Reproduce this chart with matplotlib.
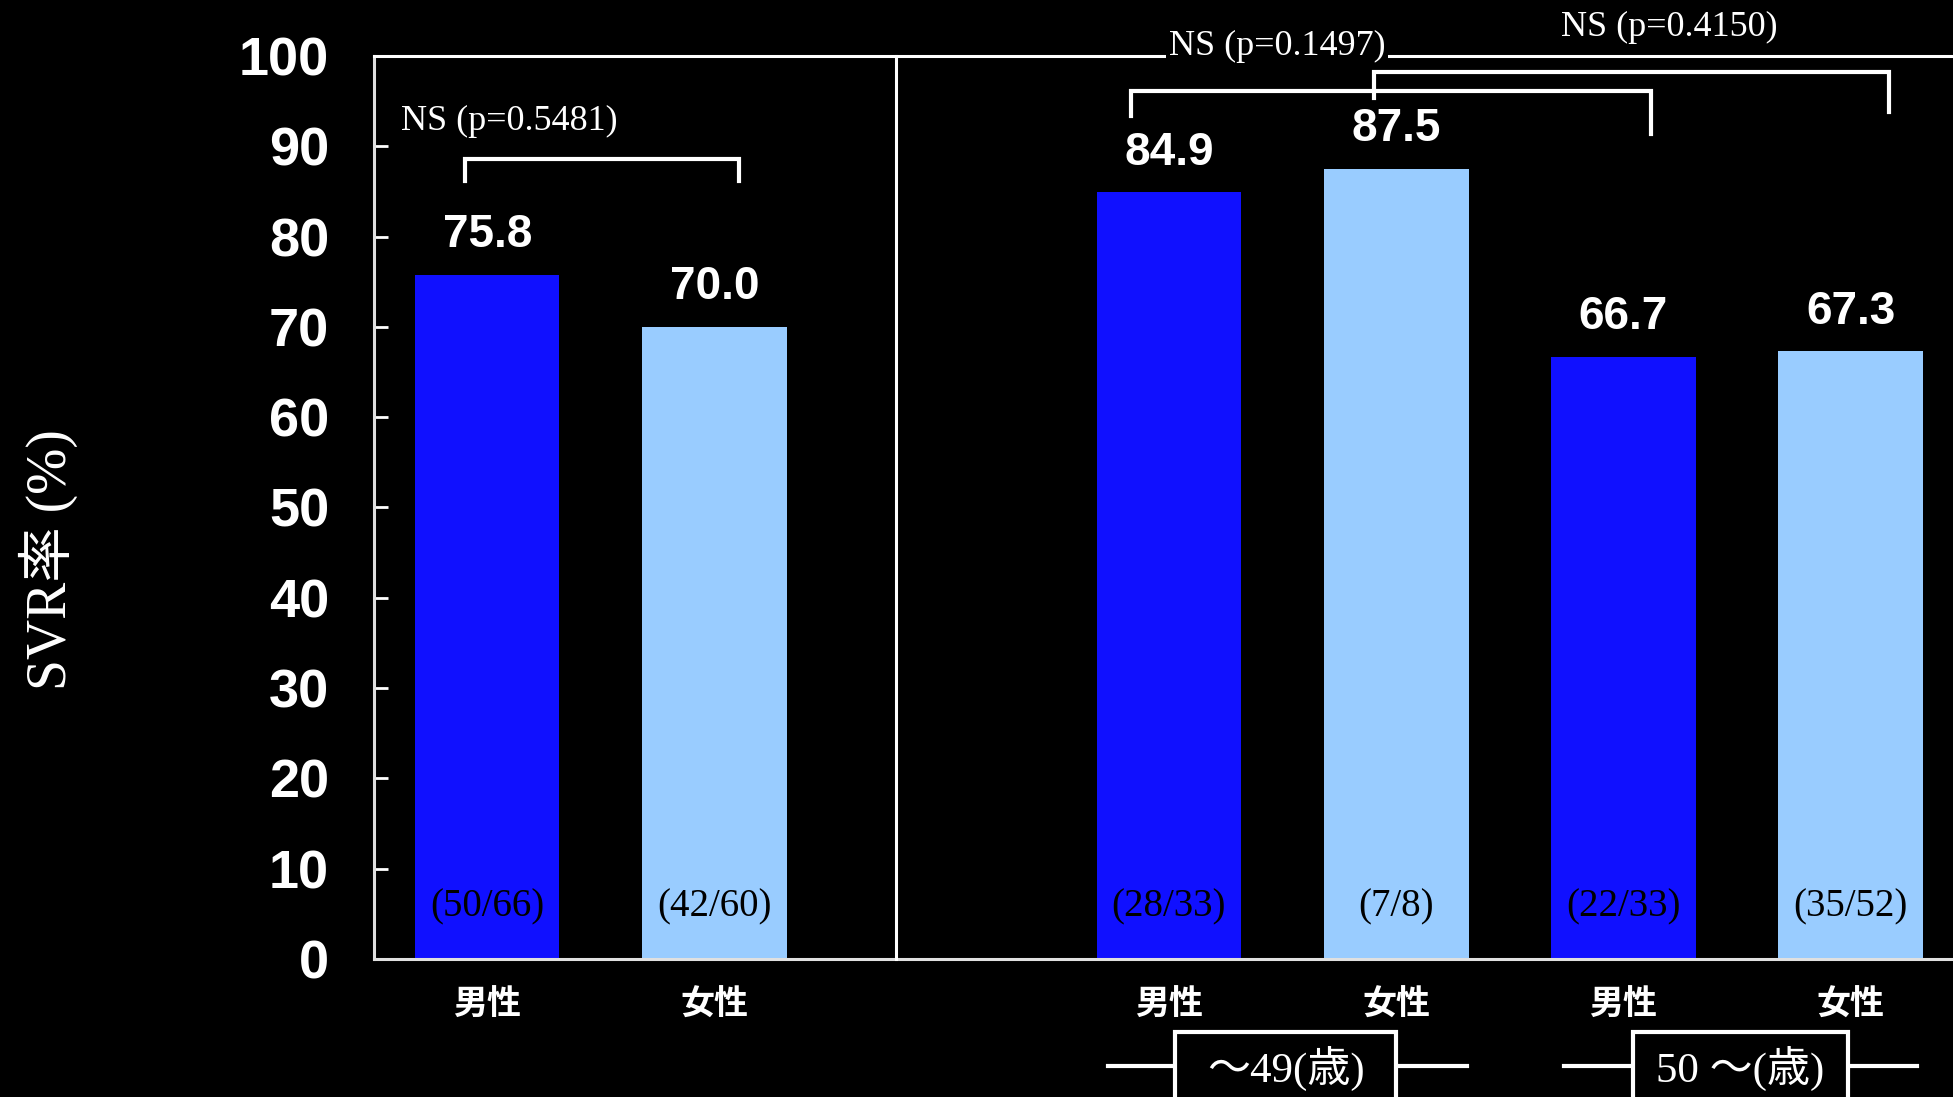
import matplotlib
matplotlib.use("Agg")
import matplotlib.pyplot as plt
from matplotlib.patches import Rectangle

# ---- data ----
categories = ['男性', '女性', '男性', '女性', '男性', '女性']
svr_rates = [75.8, 70.0, 84.9, 87.5, 66.7, 67.3]
count_labels = ['(50/66)', '(42/60)', '(28/33)', '(7/8)', '(22/33)', '(35/52)']
p_labels = ['NS (p=0.5481)', 'NS (p=0.1497)', 'NS (p=0.4150)']
age_groups = ['～49(歳)', '50 ～(歳)']
y_ticks = [0, 10, 20, 30, 40, 50, 60, 70, 80, 90, 100]
y_label = 'SVR率 (%)'

positions = [0, 1, 3, 4, 5, 6]
male_color = '#1010FF'
female_color = '#99CCFF'
colors = [male_color, female_color] * 3

SANS_B = ['Liberation Sans', 'DejaVu Sans']
SERIF = ['Liberation Serif', 'Noto Sans CJK JP', 'DejaVu Serif']
CJK_B = ['Noto Sans CJK JP', 'DejaVu Sans']

fig = plt.figure(figsize=(19.53, 10.97), dpi=100, facecolor='black')
ax = fig.add_axes([0.1913, 0.126, 0.8087, 0.8229])
ax.set_facecolor('black')

ax.bar(positions, svr_rates, width=0.636, color=colors, zorder=2)
ax.set_xlim(-0.5, 6.45)
ax.set_ylim(0, 100)

# spines
for s in ['left', 'bottom', 'top']:
    ax.spines[s].set_color('#e0e0e0')
    ax.spines[s].set_linewidth(2.2)
ax.spines['right'].set_visible(False)
ax.spines['top'].set_color('white')

ax.set_yticks(y_ticks)
ax.set_yticklabels([str(t) for t in y_ticks], family=SANS_B, fontweight='bold',
                   fontsize=39, color='white')
ax.tick_params(axis='y', direction='in', length=10, width=2, color='white', pad=32)
ax.set_xticks([])

# separator
ax.plot([1.8, 1.8], [0, 100], color='white', lw=2.2, clip_on=False, zorder=3)

# value labels
for x, v in zip(positions, svr_rates):
    ax.text(x, v + 4.4, f'{v:.1f}', ha='center', va='center', color='white',
            family=SANS_B, fontweight='bold', fontsize=33)

# count labels
for x, c in zip(positions, count_labels):
    ax.text(x, 5.7, c, ha='center', va='center', color='black',
            family=SERIF, fontsize=28)

# category labels
for x, c in zip(positions, categories):
    ax.text(x, -5.0, c, ha='center', va='center', color='white',
            family=CJK_B, fontweight='bold', fontsize=24.5, clip_on=False)

# brackets
def bracket(x1, x2, y, y1, y2):
    ax.plot([x1, x1, x2, x2], [y1, y, y, y2], color='white', lw=3,
            clip_on=False, zorder=4, solid_joinstyle='miter')

bracket(-0.099, 1.107, 88.55, 86.2, 86.2)
bracket(2.834, 5.12, 96.1, 93.4, 91.4)
bracket(3.90, 6.17, 98.2, 95.4, 93.8)

ax.text(-0.378, 92.7, p_labels[0], ha='left', va='center', color='white',
        family=SERIF, fontsize=26)
ax.text(3.476, 101.1, p_labels[1], ha='center', va='center', color='white',
        family=SERIF, fontsize=26, clip_on=False, zorder=5,
        bbox=dict(facecolor='black', edgecolor='none', pad=2))
ax.text(5.20, 103.2, p_labels[2], ha='center', va='center', color='white',
        family=SERIF, fontsize=26, clip_on=False)

# age group boxes
for (bx0, bx1, lx0, lx1), lab in zip([(3.026, 4.0, 2.73, 4.31), (5.04, 5.99, 4.74, 6.29)], age_groups):
    ax.add_patch(Rectangle((bx0, -17), bx1 - bx0, 17 - 8.14, facecolor='black',
                           edgecolor='white', lw=3, clip_on=False, zorder=4))
    ax.plot([lx0, bx0], [-11.86, -11.86], color='white', lw=3, clip_on=False)
    ax.plot([bx1, lx1], [-11.86, -11.86], color='white', lw=3, clip_on=False)
    ax.text((bx0 + bx1) / 2, -12.2, lab, ha='center', va='center', color='white',
            family=SERIF, fontsize=31, clip_on=False, zorder=5)

# y label
fig.text(0.0245, 0.49, y_label, rotation=90, ha='center', va='center', color='white',
         family=SERIF, fontsize=40)

fig.savefig('out.png', dpi=100, facecolor='black')
